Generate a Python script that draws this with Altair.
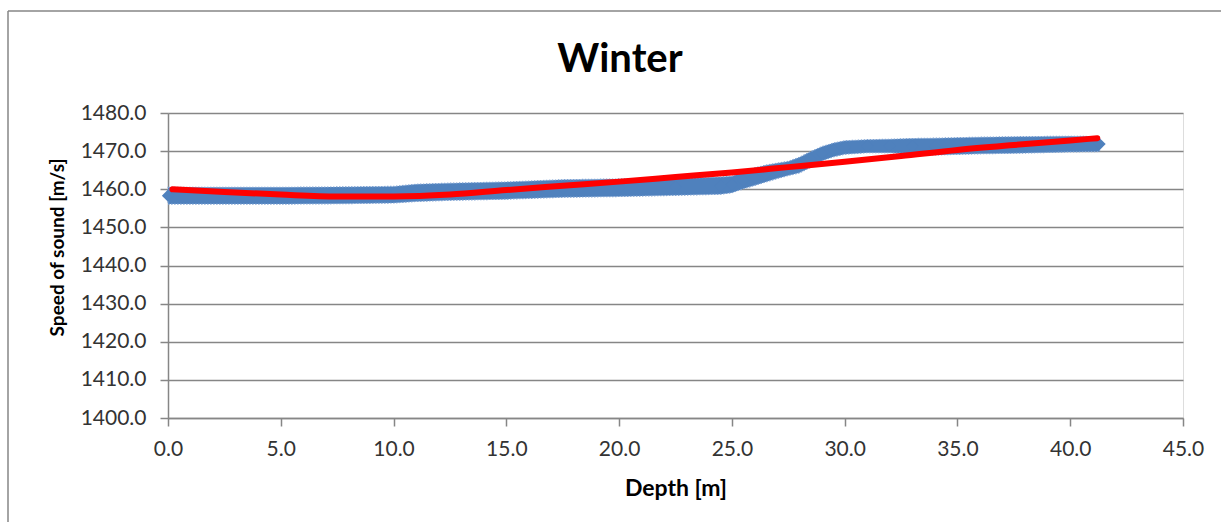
import altair as alt
import pandas as pd

# ---- data ----
blue_depth = [0.0, 2.5, 5.0, 7.5, 10.0, 11.0, 12.5, 15.0, 17.5, 20.0, 22.5, 24.5, 25.0,
              25.5, 26.0, 26.5, 27.0, 27.5, 28.0, 28.5, 29.0, 29.5, 30.0, 31.0, 32.0,
              33.0, 34.0, 36.0, 38.0, 40.0, 41.3]
blue_top = [1460.5, 1460.5, 1460.5, 1460.6, 1460.75, 1461.3, 1461.6, 1461.9, 1462.5, 1462.7,
            1462.8, 1463.2, 1463.4, 1464.5, 1465.6, 1466.3, 1466.8, 1467.3, 1468.4, 1469.9,
            1471.2, 1472.1, 1472.7, 1473.0, 1473.1, 1473.3, 1473.4, 1473.65, 1473.8, 1473.9, 1473.8]
blue_bottom = [1456.1, 1456.1, 1456.1, 1456.2, 1456.4, 1456.8, 1457.1, 1457.4, 1457.9, 1458.1,
               1458.4, 1458.7, 1459.1, 1460.1, 1461.0, 1461.9, 1462.8, 1463.6, 1464.3, 1465.8,
               1467.5, 1468.5, 1469.2, 1469.6, 1469.6, 1469.3, 1469.0, 1469.3, 1469.5, 1469.8, 1469.9]

red_depth = [0.2, 2.5, 5.0, 7.5, 10.0, 12.5, 15.0, 17.5, 20.0, 22.5, 25.0, 27.5, 30.0,
             32.5, 35.0, 37.5, 40.0, 41.2]
red_speed = [1460.0, 1459.3, 1458.6, 1458.1, 1458.1, 1458.6, 1459.8, 1460.9, 1462.0, 1463.2,
             1464.4, 1465.8, 1467.2, 1468.7, 1470.3, 1471.6, 1472.8, 1473.4]

x_ticks = [0, 5, 10, 15, 20, 25, 30, 35, 40, 45]
y_ticks = [1400, 1410, 1420, 1430, 1440, 1450, 1460, 1470, 1480]
title_text = "Winter"

blue_df = pd.DataFrame({"depth": blue_depth, "top": blue_top, "bottom": blue_bottom})
blue_df["mid"] = (blue_df["top"] + blue_df["bottom"]) / 2
red_df = pd.DataFrame({"depth": red_depth, "speed": red_speed})

GRID = "#868686"
BLUE = "#4F81BD"
FONT = "Lato"

x_scale = alt.Scale(domain=[0, 45], nice=False, zero=False)
y_scale = alt.Scale(domain=[1400, 1480], nice=False, zero=False)

x_axis = alt.Axis(values=x_ticks, format=".1f", title="Depth [m]", grid=False,
                  domainColor=GRID, domainWidth=1.5, tickColor=GRID, tickWidth=1.5, tickSize=8,
                  labelFont=FONT, labelFontSize=21, labelColor="#333333", labelPadding=12,
                  labelFlush=False, labelOverlap=False,
                  titleFont=FONT, titleFontSize=23, titleFontWeight="bold", titleColor="#000000",
                  titleBaseline="alphabetic", titleY=77)
y_axis = alt.Axis(values=y_ticks, format=".1f", title="Speed of sound [m/s]", grid=True,
                  gridColor=GRID, gridWidth=1.5,
                  domainColor=GRID, domainWidth=1.5, tickColor=GRID, tickWidth=1.5, tickSize=8,
                  labelFont=FONT, labelFontSize=21, labelColor="#333333", labelPadding=14,
                  labelFlush=False, labelOverlap=False,
                  titleFont=FONT, titleFontSize=19, titleFontWeight="bold", titleColor="#000000",
                  titleAngle=-90, titleBaseline="alphabetic", titleAlign="center",
                  titleX=-105, titleY=134)

X = lambda f: alt.X(f, scale=x_scale, axis=x_axis)
Y = lambda f: alt.Y(f, scale=y_scale, axis=y_axis)

band = alt.Chart(blue_df).mark_area(
    color=BLUE, stroke="#7EA3D4", strokeWidth=1.2, strokeDash=[1.5, 1.5]
).encode(x=X("depth:Q"), y=Y("top:Q"), y2="bottom:Q")

diamonds = alt.Chart(blue_df).mark_point(
    shape="diamond", filled=True, size=150, color=BLUE, opacity=1
).encode(x=X("depth:Q"), y=Y("mid:Q"))

red_line = alt.Chart(red_df).mark_line(
    color="#FF0000", strokeWidth=6, strokeCap="round", strokeJoin="round", interpolate="monotone"
).encode(x=X("depth:Q"), y=Y("speed:Q"))

one = pd.DataFrame({"a": [0]})
border_left = alt.Chart(one).mark_rule(color=GRID, strokeWidth=1.5).encode(
    x=alt.value(-160), y=alt.value(-102), y2=alt.value(420)
)
border_top = alt.Chart(one).mark_rule(color=GRID, strokeWidth=1.5).encode(
    x=alt.value(-160), x2=alt.value(1060), y=alt.value(-102)
)
title = alt.Chart(pd.DataFrame({"t": [title_text]})).mark_text(
    font=FONT, fontSize=40, fontWeight="bold", color="#000000", align="center", baseline="alphabetic"
).encode(text="t:N", x=alt.value(452), y=alt.value(-41))

chart = alt.layer(border_left, border_top, title, band, diamonds, red_line).properties(
    width=1015,
    height=305,
    autosize=alt.AutoSizeParams(type="none"),
    padding={"left": 168, "top": 113, "right": 38, "bottom": 104},
).configure_view(stroke=None).configure(background="white")

chart.save("out.html", embed_options={"renderer": "svg", "actions": False})
